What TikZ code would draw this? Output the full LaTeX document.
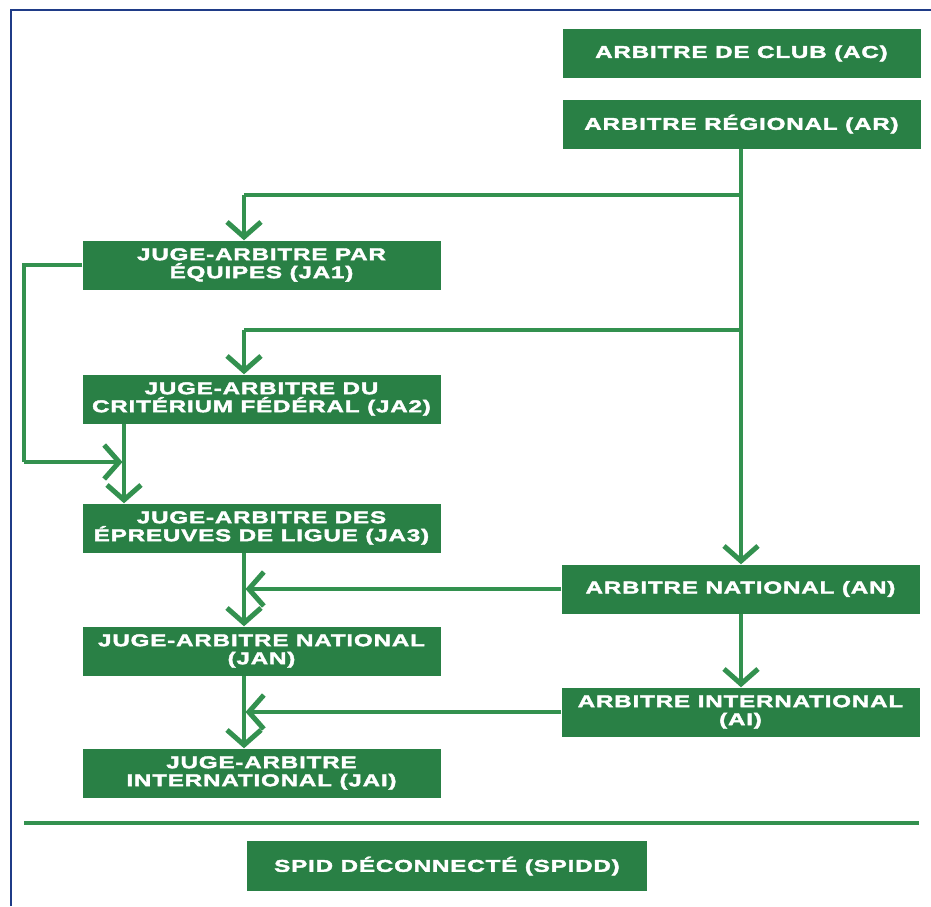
\documentclass[tikz,border=0pt]{standalone}
\usepackage{fontspec}
\usetikzlibrary{positioning}
\usetikzlibrary{arrows.meta}
\newfontfamily\boxfont{Liberation Sans}[FakeStretch=1.42,LetterSpace=5,FakeBold=2.5]
\definecolor{boxgreen}{HTML}{298045}
\definecolor{linegreen}{HTML}{33914F}
\definecolor{framenavy}{HTML}{1F3B87}
\tikzstyle{box}=[rectangle,fill=boxgreen,text=white,minimum width=358pt,minimum height=49pt,inner sep=0pt,align=center,font=\boxfont\bfseries\fontsize{17}{18}\selectfont]
\tikzstyle{link}=[linegreen,line width=3.5pt]
\tikzstyle{arr}=[link,-{Straight Barb[length=15pt,width=34pt,line width=5pt]}]

\begin{document}
\begin{tikzpicture}[x=1pt,y=-1pt]
\useasboundingbox (0,0) rectangle (931,906);

% frame
\draw[framenavy,line width=2.5pt] (11,906) -- (11,10) -- (931,10);

% boxes
  \foreach \pos/\name/\txt in {{(741.5,53.5)/ac/{ARBITRE DE CLUB (AC)}}, {(741.5,124)/ar/{ARBITRE RÉGIONAL (AR)}},
      {(261.5,265)/ja1/{JUGE-ARBITRE PAR\\ÉQUIPES (JA1)}}, {(261.5,399)/ja2/{JUGE-ARBITRE DU\\CRITÉRIUM FÉDÉRAL (JA2)}},
      {(261.5,528)/ja3/{JUGE-ARBITRE DES\\ÉPREUVES DE LIGUE (JA3)}}, {(261.5,651)/jan/{JUGE-ARBITRE NATIONAL\\(JAN)}},
      {(261.5,773)/jai/{JUGE-ARBITRE\\INTERNATIONAL (JAI)}}, {(740.5,589)/an/{ARBITRE NATIONAL (AN)}},
      {(740.5,712)/ai/{ARBITRE INTERNATIONAL\\(AI)}}}
      \node[box] (\name) at \pos {\txt};
\node[box,minimum width=400pt,minimum height=50pt] (spidd) at (447,866) {SPID DÉCONNECTÉ (SPIDD)};

% spine x positions
\coordinate (sp) at (244,0);
\coordinate (sq) at (124,0);
\coordinate (b1) at (741,195);
\coordinate (b2) at (741,330);
\coordinate (lx) at (24,462);

% arbitre branch
  \draw[arr] (ar.south -| b1) -- (an.north -| b1);
  \draw[arr] (an.south -| b1) -- (ai.north -| b1);
  \draw[link] (b1) -- (sp |- b1);
  \draw[arr] (sp |- b1) -- (ja1.north -| sp);
  \draw[link] (b2) -- (sp |- b2);
  \draw[arr] (sp |- b2) -- (ja2.north -| sp);

% juge-arbitre branch
  \draw[link] (ja1.west) -| (lx);
  \draw[arr] (lx) -- ([xshift=-1.5pt]sq |- lx);
  \draw[arr] (ja2.south -| sq) -- (ja3.north -| sq);
  \foreach \source/ \dest in {ja3/jan, jan/jai}
          \draw[arr] (\source.south -| sp) -- (\dest.north -| sp);
  \foreach \source in {an, ai}
          \draw[arr] (\source.west) -- ([xshift=1.5pt]sp |- \source.west);

% separator
\draw[link] (24,823) -- (919,823);

\end{tikzpicture}
\end{document}
